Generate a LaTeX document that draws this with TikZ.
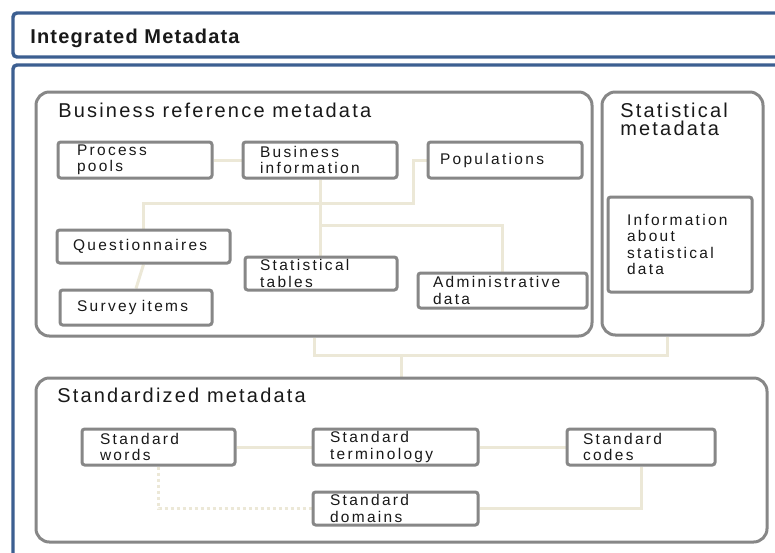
\documentclass[tikz,border=0pt]{standalone}
\usepackage{fontspec}
\setmainfont{Liberation Sans}
\newfontfamily\lblfont[LetterSpace=15]{Liberation Sans}
\newfontfamily\ttlfont[LetterSpace=11]{Liberation Sans}
\newfontfamily\topfont[LetterSpace=6]{Liberation Sans}
\usetikzlibrary{backgrounds}
\definecolor{bluec}{RGB}{60,95,145}
\definecolor{boxc}{RGB}{135,135,135}
\definecolor{connc}{RGB}{236,232,215}
\definecolor{txtc}{RGB}{25,25,25}
\newcommand\mkbox[7]{%
  \pgfmathsetmacro\mkbw{(#4-#2)*0.75}%
  \pgfmathsetmacro\mkbh{(#5-#3)*0.75}%
  \pgfmathsetmacro\mkbx{#6*0.75}%
  \pgfmathsetmacro\mkbt{(#4-#2-2*#6)*0.75}%
  \node[boxst, minimum width=\mkbw pt, minimum height=\mkbh pt, inner xsep=\mkbx pt, text width=\mkbt pt] (#1) at ({(#2+#4)/2},{(#3+#5)/2}) {#7};}
\begin{document}
\begin{tikzpicture}[x=0.75pt,y=-0.75pt,
  lbl/.style={font=\lblfont\fontsize{11.6}{12.4}\selectfont, text=txtc},
  boxst/.style={draw=boxc, line width=2.25pt, fill=white, rounded corners=2pt, align=left, lbl, inner ysep=0pt},
  grp/.style={draw=boxc, line width=2.25pt, rounded corners=10pt, inner sep=0pt},
  conn/.style={draw=connc, line width=2.25pt},
  dotconn/.style={conn, dash pattern=on 2.25pt off 2.25pt},
  bluebox/.style={draw=bluec, line width=2.6pt, rounded corners=3pt},
  ttl/.style={font=\ttlfont\fontsize{15}{13.5}\selectfont, text=txtc, inner sep=0pt, anchor=base west},
  toptl/.style={font=\topfont\bfseries\fontsize{15}{18}\selectfont, text=txtc, inner sep=0pt, anchor=base west}]
\useasboundingbox (0,0) rectangle (775,553);
\clip (0,0) rectangle (775,553);
\begin{scope}[on background layer]
  \fill[white] (0,0) rectangle (775,553);
\end{scope}
% outer blue frames
\draw[bluebox] (13,13) rectangle (800,57);
\draw[bluebox] (13,65) rectangle (800,600);
\node[toptl] (ttop) at (30,43) {Integrated Metadata};
% groups
\node[grp, minimum width=556*0.75pt, minimum height=244*0.75pt] (br) at (314,214) {};
\node[grp, minimum width=161*0.75pt, minimum height=243*0.75pt] (sm) at (682.5,213.5) {};
\node[grp, minimum width=731*0.75pt, minimum height=164*0.75pt] (std) at (401.5,460) {};
\node[ttl] (tbr) at (58,117) {Business reference metadata};
\node[ttl, align=left] (tsm) at (620,135) {Statistical\\metadata};
\node[ttl] (tstd) at (57,402) {Standardized metadata};
% boxes
\mkbox{pp}{58}{142}{212}{178}{19}{Process\\pools}
\mkbox{bi}{243}{142}{397}{178}{17}{Business\\information}
\mkbox{pop}{428}{142}{582}{178}{12}{Populations}
\mkbox{q}{57}{230}{230}{263}{16}{Questionnaires}
\mkbox{si}{60}{290}{212}{325}{17}{Survey items}
\mkbox{st}{245}{257}{397}{290}{15}{Statistical\\tables}
\mkbox{ad}{418}{273}{587}{308}{15}{Administrative\\data}
\mkbox{info}{608}{197}{752}{292}{19}{Information\\about\\statistical\\data}
\mkbox{sw}{82}{429}{235}{465}{18}{Standard\\words}
\mkbox{stt}{313}{429}{478}{465}{17}{Standard\\terminology}
\mkbox{sc}{567}{429}{715}{465}{16}{Standard\\codes}
\mkbox{sd}{313}{492}{478}{525}{17}{Standard\\domains}
% connectors
\coordinate (ja) at (320,203);
\coordinate (jb) at (320,225);
\coordinate (jp) at (413,203);
\coordinate (jm) at (401.5,355);
\begin{scope}[on background layer]
  \draw[conn] (pp.east) -- (bi.west);
  \draw[conn] (bi.south) -- (bi.south |- st.north);
  \draw[conn] (ja) -| (q.north);
  \draw[conn] (ja) -- (jp) |- (pop.west);
  \draw[conn] (jb) -| (ad.north);
  \draw[conn] (q.south) -- (si.north);
  \draw[conn] (br.south) |- (jm);
  \draw[conn] (jm) -| ([xshift=-11.5pt]sm.south);
  \draw[conn] (jm) -- (std.north);
  \draw[conn] (sw.east) -- (stt.west);
  \draw[conn] (stt.east) -- (sc.west);
  \draw[conn] (sc.south) |- (sd.east);
  \draw[dotconn] (sw.south) |- (sd.west);
\end{scope}
\end{tikzpicture}
\end{document}
